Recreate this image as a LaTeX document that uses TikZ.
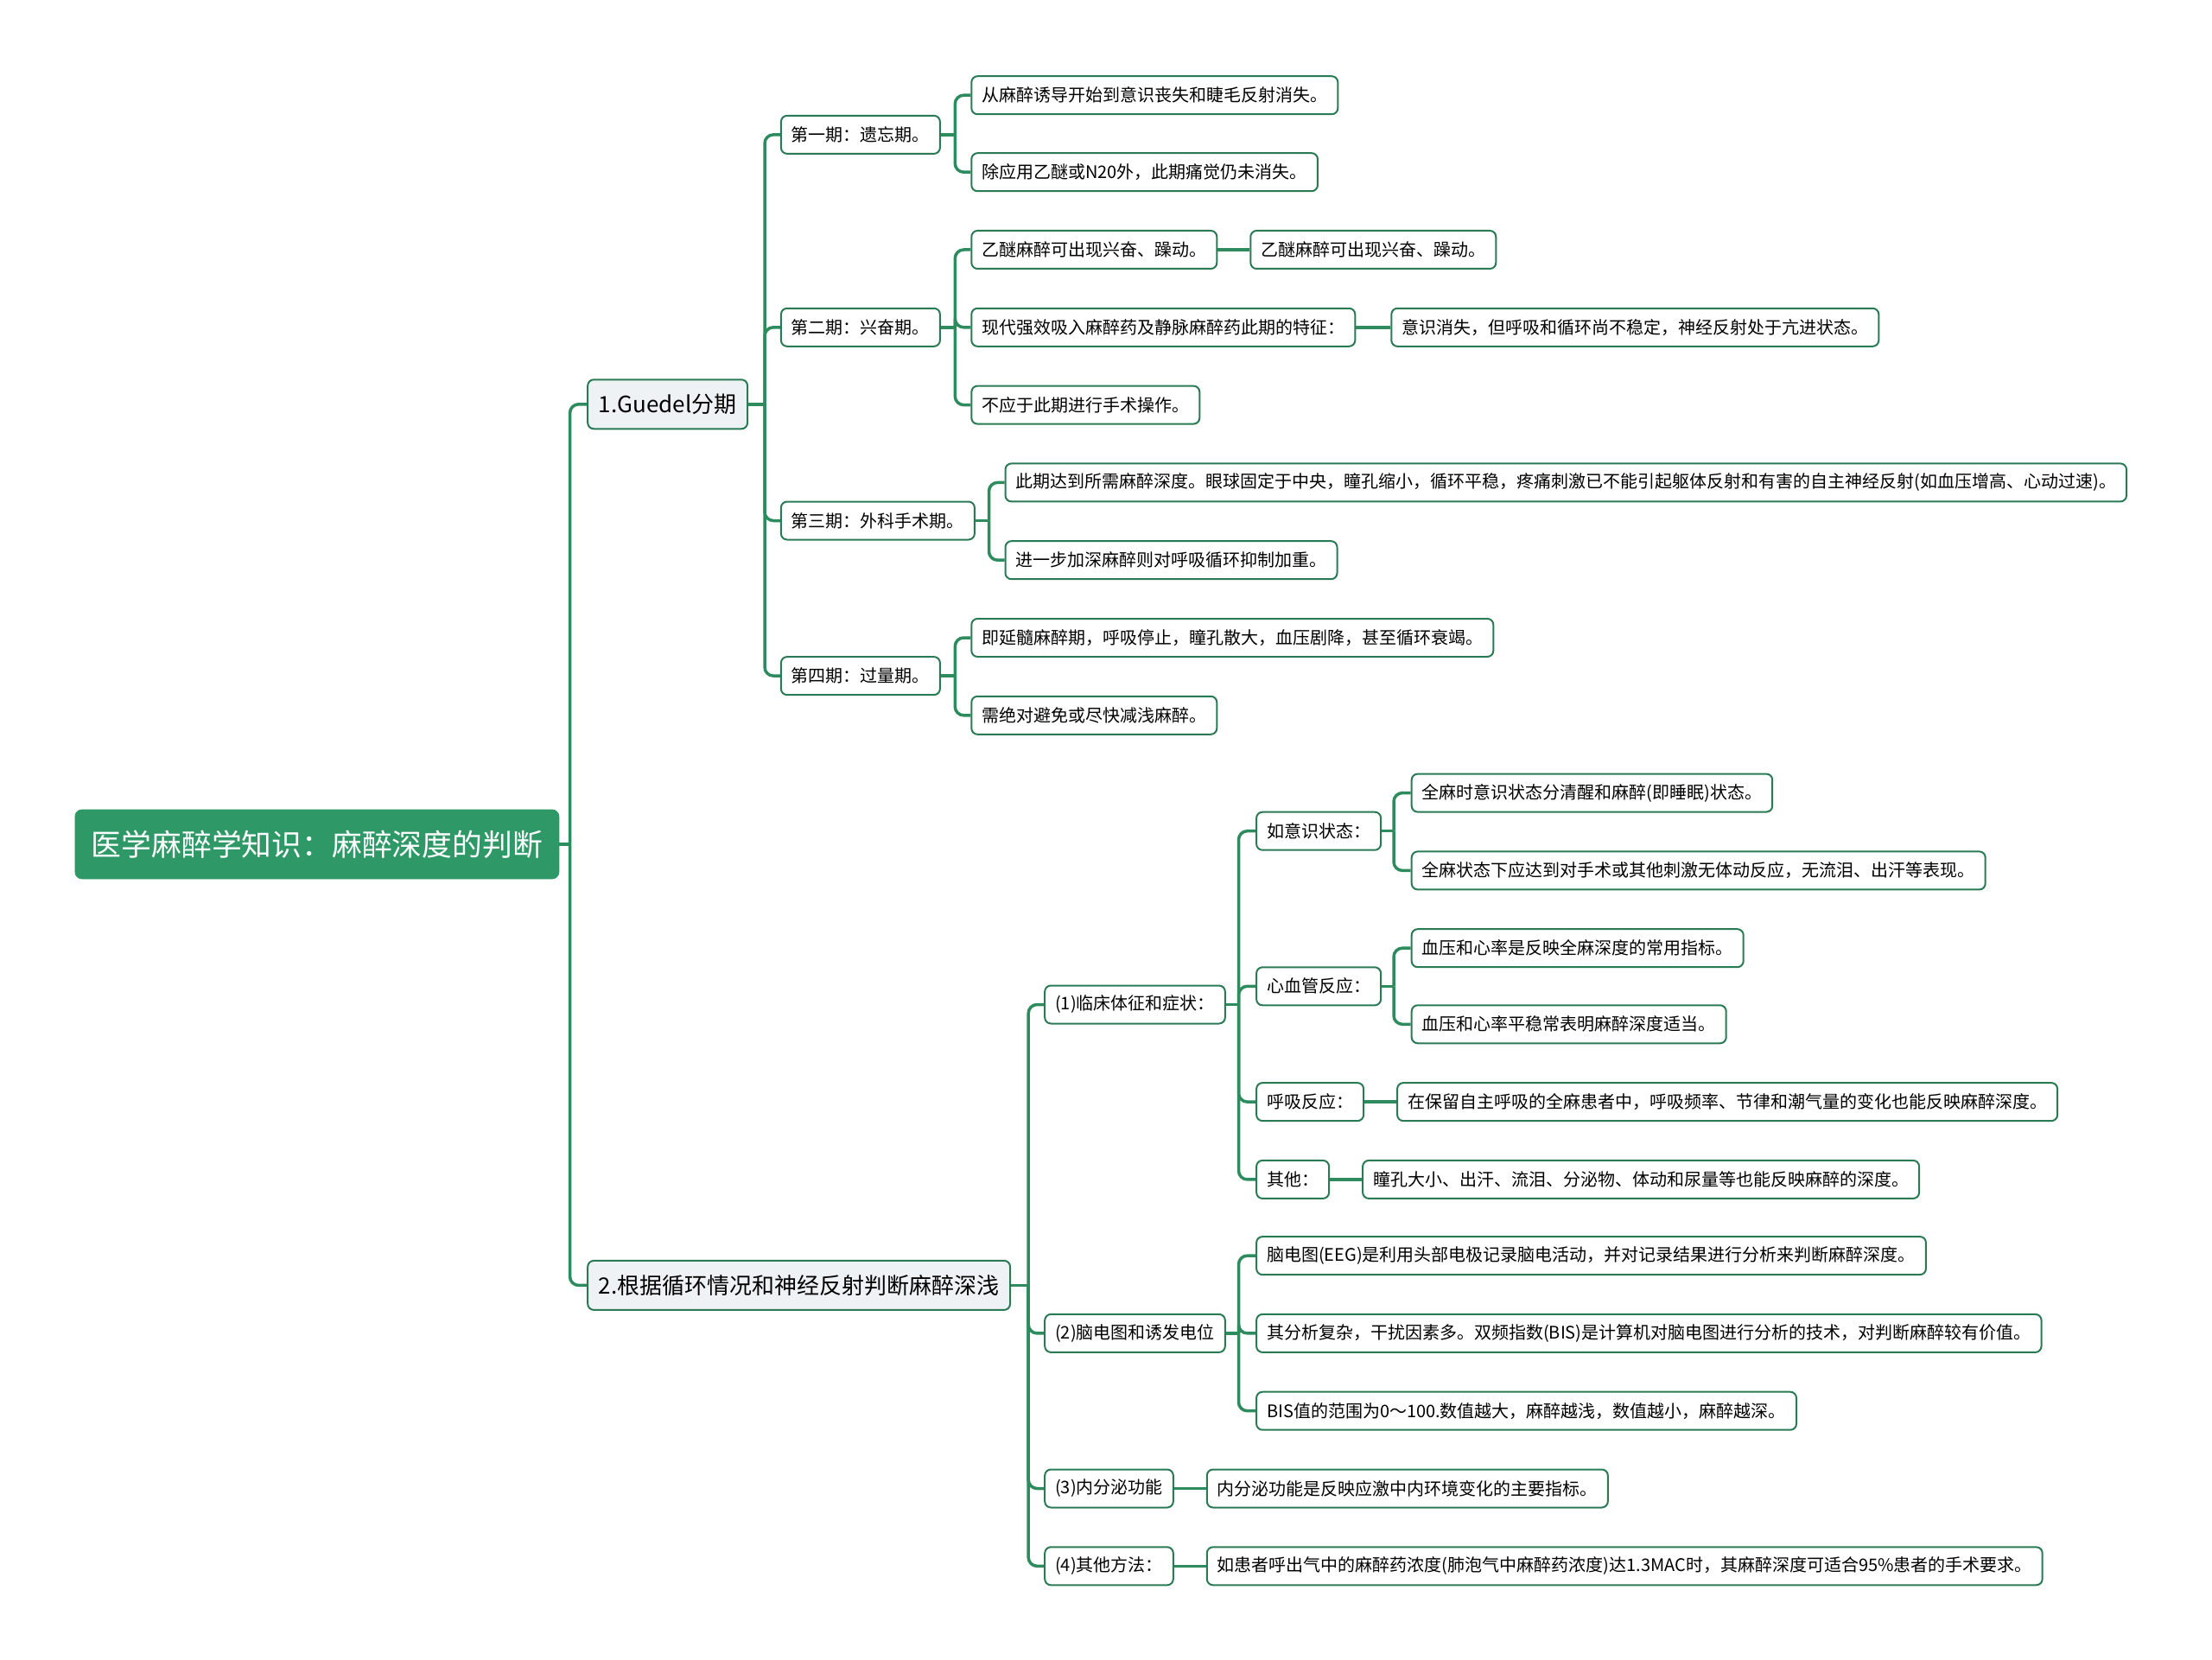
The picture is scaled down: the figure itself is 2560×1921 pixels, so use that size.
\documentclass[tikz,border=0pt]{standalone}
\usepackage{fontspec}
\setmainfont{Noto Sans CJK SC}
\usetikzlibrary{positioning}
\definecolor{rootgreen}{RGB}{46,153,102}
\definecolor{linegreen}{RGB}{46,139,94}
\definecolor{bordergreen}{RGB}{42,122,85}
\definecolor{lonefill}{RGB}{238,242,244}
\tikzset{
  rootbox/.style={rounded corners=4pt, fill=rootgreen, draw=rootgreen, text=white,
    font=\fontsize{17.4}{20}\selectfont, minimum height=40pt, inner xsep=9.5pt, anchor=west},
  lonebox/.style={rounded corners=3.5pt, fill=lonefill, draw=bordergreen, line width=1pt,
    font=\fontsize{13}{16}\selectfont, minimum height=28.5pt, inner xsep=6.3pt, anchor=west},
  leafbox/.style={rounded corners=3.5pt, fill=white, draw=bordergreen, line width=1pt,
    font=\fontsize{10}{12}\selectfont, minimum height=22pt, inner xsep=6pt, anchor=west},
  conn/.style={draw=linegreen, line width=1.75pt, rounded corners=5pt}
}
\begin{document}
\begin{tikzpicture}[x=0.5pt,y=-0.5pt]
\useasboundingbox (0,0) rectangle (2560,1921);
% root and level 1
\node[rootbox] (root) at (86.5,977) {医学麻醉学知识：麻醉深度的判断};
\coordinate (t0) at (659.6,977);
\node[lonebox] (g) at (679.2,467.8) {1.Guedel分期};
\node[lonebox] (n2) at (679.2,1487.4) {2.根据循环情况和神经反射判断麻醉深浅};
% Guedel stages
\coordinate (tg) at (885,467.8);
\node[leafbox] (s1) at (902.9,155.9) {第一期：遗忘期。};
\node[leafbox] (s2) at (902.9,378.8) {第二期：兴奋期。};
\node[leafbox] (s3) at (902.9,602.5) {第三期：外科手术期。};
\node[leafbox] (s4) at (902.9,782.1) {第四期：过量期。};
\coordinate (ts1) at (1105.3,155.9);
\coordinate (ts2) at (1105.3,378.8);
\coordinate (ts3) at (1144.5,602.5);
\coordinate (ts4) at (1105.3,782.1);
\node[leafbox] (a1) at (1123.3,110.2) {从麻醉诱导开始到意识丧失和睫毛反射消失。};
\node[leafbox] (a2) at (1123.3,199.2) {除应用乙醚或N20外，此期痛觉仍未消失。};
\node[leafbox] (b1) at (1123.3,289) {乙醚麻醉可出现兴奋、躁动。};
\node[leafbox, right=18.5pt of b1] (b1x) {乙醚麻醉可出现兴奋、躁动。};
\node[leafbox] (b2) at (1123.3,378.8) {现代强效吸入麻醉药及静脉麻醉药此期的特征：};
\node[leafbox, right=20pt of b2] (b2x) {意识消失，但呼吸和循环尚不稳定，神经反射处于亢进状态。};
\node[leafbox] (b3) at (1123.3,468.6) {不应于此期进行手术操作。};
\node[leafbox] (c1) at (1162.5,558.4) {此期达到所需麻醉深度。眼球固定于中央，瞳孔缩小，循环平稳，疼痛刺激已不能引起躯体反射和有害的自主神经反射(如血压增高、心动过速)。};
\node[leafbox] (c2) at (1162.5,648.2) {进一步加深麻醉则对呼吸循环抑制加重。};
\node[leafbox] (d1) at (1123.3,738) {即延髓麻醉期，呼吸停止，瞳孔散大，血压剧降，甚至循环衰竭。};
\node[leafbox] (d2) at (1123.3,827.8) {需绝对避免或尽快减浅麻醉。};
% branch 2
\coordinate (tn2) at (1190.2,1487.4);
\node[leafbox] (e1) at (1208.2,1162.5) {(1)临床体征和症状：};
\node[leafbox] (e2) at (1208.2,1542.9) {(2)脑电图和诱发电位};
\node[leafbox] (e3) at (1208.2,1722.5) {(3)内分泌功能};
\node[leafbox] (e4) at (1208.2,1812.3) {(4)其他方法：};
\coordinate (te1) at (1433.5,1162.5);
\node[leafbox] (f1) at (1453.1,961.7) {如意识状态：};
\node[leafbox] (f2) at (1453.1,1141.3) {心血管反应：};
\node[leafbox] (f3) at (1453.1,1275.1) {呼吸反应：};
\node[leafbox] (f4) at (1453.1,1364.9) {其他：};
\coordinate (tf1) at (1613,961.7);
\coordinate (tf2) at (1613,1141.3);
\node[leafbox] (g1) at (1632.7,917.6) {全麻时意识状态分清醒和麻醉(即睡眠)状态。};
\node[leafbox] (g2) at (1632.7,1007.4) {全麻状态下应达到对手术或其他刺激无体动反应，无流泪、出汗等表现。};
\node[leafbox] (h1) at (1632.7,1097.2) {血压和心率是反映全麻深度的常用指标。};
\node[leafbox] (h2) at (1632.7,1185.3) {血压和心率平稳常表明麻醉深度适当。};
\node[leafbox, right=18.5pt of f3] (f3x) {在保留自主呼吸的全麻患者中，呼吸频率、节律和潮气量的变化也能反映麻醉深度。};
\node[leafbox, right=18.5pt of f4] (f4x) {瞳孔大小、出汗、流泪、分泌物、体动和尿量等也能反映麻醉的深度。};
\coordinate (te2) at (1433.5,1542.9);
\node[leafbox] (i1) at (1453.1,1453.1) {脑电图(EEG)是利用头部电极记录脑电活动，并对记录结果进行分析来判断麻醉深度。};
\node[leafbox] (i2) at (1453.1,1542.9) {其分析复杂，干扰因素多。双频指数(BIS)是计算机对脑电图进行分析的技术，对判断麻醉较有价值。};
\node[leafbox] (i3) at (1453.1,1632.7) {BIS值的范围为0～100.数值越大，麻醉越浅，数值越小，麻醉越深。};
\node[leafbox, right=18.5pt of e3] (e3x) {内分泌功能是反映应激中内环境变化的主要指标。};
\node[leafbox, right=18.5pt of e4] (e4x) {如患者呼出气中的麻醉药浓度(肺泡气中麻醉药浓度)达1.3MAC时，其麻醉深度可适合95\%患者的手术要求。};
% connectors
\draw[conn] (root.east) -- (t0);
\draw[conn] (t0) |- (g.west);
\draw[conn] (t0) |- (n2.west);
\draw[conn] (g.east) -- (tg);
\foreach \c in {s1,s2,s3,s4} \draw[conn] (tg) |- (\c.west);
\draw[conn] (s1.east) -- (ts1);
\foreach \c in {a1,a2} \draw[conn] (ts1) |- (\c.west);
\draw[conn] (s2.east) -- (ts2);
\foreach \c in {b1,b2,b3} \draw[conn] (ts2) |- (\c.west);
\draw[conn] (b1.east) -- (b1x.west);
\draw[conn] (b2.east) -- (b2x.west);
\draw[conn] (s3.east) -- (ts3);
\foreach \c in {c1,c2} \draw[conn] (ts3) |- (\c.west);
\draw[conn] (s4.east) -- (ts4);
\foreach \c in {d1,d2} \draw[conn] (ts4) |- (\c.west);
\draw[conn] (n2.east) -- (tn2);
\foreach \c in {e1,e2,e3,e4} \draw[conn] (tn2) |- (\c.west);
\draw[conn] (e1.east) -- (te1);
\foreach \c in {f1,f2,f3,f4} \draw[conn] (te1) |- (\c.west);
\draw[conn] (f1.east) -- (tf1);
\foreach \c in {g1,g2} \draw[conn] (tf1) |- (\c.west);
\draw[conn] (f2.east) -- (tf2);
\foreach \c in {h1,h2} \draw[conn] (tf2) |- (\c.west);
\draw[conn] (f3.east) -- (f3x.west);
\draw[conn] (f4.east) -- (f4x.west);
\draw[conn] (e2.east) -- (te2);
\foreach \c in {i1,i2,i3} \draw[conn] (te2) |- (\c.west);
\draw[conn] (e3.east) -- (e3x.west);
\draw[conn] (e4.east) -- (e4x.west);
\end{tikzpicture}
\end{document}
